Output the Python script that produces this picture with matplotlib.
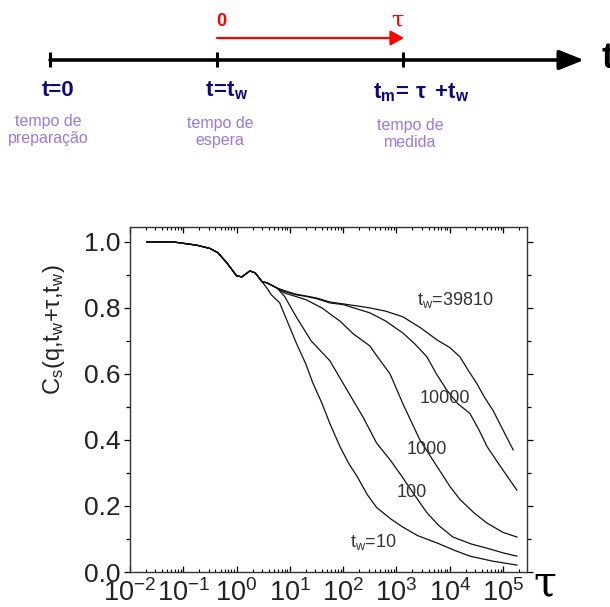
import matplotlib
matplotlib.use("Agg")
import matplotlib.pyplot as plt
import numpy as np

plt.rcParams['font.family'] = ['Liberation Sans', 'DejaVu Sans']
plt.rcParams['mathtext.fontset'] = 'custom'
plt.rcParams['mathtext.rm'] = 'Liberation Sans'
plt.rcParams['mathtext.it'] = 'Liberation Sans'
plt.rcParams['mathtext.bf'] = 'Liberation Sans:bold'
plt.rcParams['mathtext.default'] = 'regular'

# --- dados (expoentes de tau em log10) ---
# trecho comum a todas as curvas
log_tau_head = [-1.68, -1.2, -0.75, -0.5, -0.35, -0.18, 0.0, 0.1, 0.25, 0.35, 0.48]
c_head = [1.0, 1.0, 0.99, 0.98, 0.967, 0.936, 0.897, 0.894, 0.912, 0.906, 0.879]

log_tau_tw10 = [0.57, 0.65, 0.81, 0.95, 1.13, 1.3, 1.43, 1.6, 1.75, 1.94, 2.1, 2.26,
                2.45, 2.63, 2.9, 3.12, 3.4, 3.76, 4.1, 4.38, 4.8, 5.26]
c_tw10 = [0.86, 0.84, 0.815, 0.76, 0.69, 0.63, 0.573, 0.512, 0.45, 0.38, 0.33, 0.29,
          0.235, 0.195, 0.16, 0.136, 0.11, 0.088, 0.065, 0.048, 0.033, 0.021]

log_tau_tw100 = [0.57, 0.76, 0.9, 1.13, 1.4, 1.75, 2.07, 2.37, 2.63, 2.88, 3.1, 3.31,
                 3.57, 3.8, 4.06, 4.4, 4.7, 5.0, 5.26]
c_tw100 = [0.876, 0.86, 0.835, 0.77, 0.70, 0.64, 0.552, 0.47, 0.39, 0.34, 0.29, 0.24,
           0.18, 0.14, 0.106, 0.085, 0.072, 0.058, 0.048]

log_tau_tw1000 = [0.57, 0.76, 0.9, 1.1, 1.3, 1.6, 1.94, 2.2, 2.5, 2.63, 2.88, 3.12,
                  3.44, 3.76, 4.0, 4.19, 4.45, 4.7, 5.0, 5.26]
c_tw1000 = [0.876, 0.86, 0.845, 0.835, 0.825, 0.80, 0.76, 0.72, 0.685, 0.655, 0.60, 0.51,
            0.40, 0.32, 0.26, 0.22, 0.18, 0.148, 0.12, 0.106]

log_tau_tw10000 = [0.57, 0.76, 0.9, 1.1, 1.3, 1.5, 1.75, 2.0, 2.3, 2.5, 2.8, 3.12, 3.35,
                   3.57, 3.75, 3.94, 4.15, 4.38, 4.55, 4.7, 4.95, 5.26]
c_tw10000 = [0.876, 0.86, 0.85, 0.84, 0.835, 0.828, 0.815, 0.81, 0.795, 0.785, 0.76, 0.724,
             0.69, 0.652, 0.60, 0.552, 0.51, 0.48, 0.43, 0.38, 0.32, 0.248]

log_tau_tw39810 = [0.57, 0.76, 0.9, 1.1, 1.3, 1.5, 1.75, 2.0, 2.3, 2.5, 2.8, 3.12, 3.45,
                   3.76, 4.0, 4.19, 4.35, 4.5, 4.65, 4.81, 5.0, 5.19]
c_tw39810 = [0.876, 0.86, 0.852, 0.842, 0.836, 0.83, 0.818, 0.812, 0.805, 0.80, 0.79, 0.773,
             0.74, 0.703, 0.68, 0.652, 0.61, 0.573, 0.53, 0.49, 0.43, 0.37]

curvas = [(log_tau_tw10, c_tw10), (log_tau_tw100, c_tw100), (log_tau_tw1000, c_tw1000),
          (log_tau_tw10000, c_tw10000), (log_tau_tw39810, c_tw39810)]

# rotulos das curvas: (texto, log10 tau, C)
rotulos = [(r"t$_\mathrm{w}$=39810", 3.38, 0.825),
           ("10000", 3.44, 0.527),
           ("1000", 3.2, 0.37),
           ("100", 3.0, 0.24),
           (r"t$_\mathrm{w}$=10", 2.13, 0.09)]

fig = plt.figure(figsize=(6.1, 6.07), dpi=100)

# ---------------- diagrama temporal ----------------
diag = fig.add_axes([0, 1 - 160 / 607, 1, 160 / 607])
diag.set_xlim(0, 610)
diag.set_ylim(160, 0)
diag.axis('off')

navy = '#0a0a78'
roxo = '#9a78dc'

diag.annotate('', xy=(584, 60), xytext=(50, 60),
              arrowprops=dict(arrowstyle='-|>,head_length=0.75,head_width=0.3',
                              mutation_scale=20, lw=2.6, color='black',
                              shrinkA=0, shrinkB=0))
for xt in [50, 217, 403]:
    diag.plot([xt, xt], [52, 67], color='black', lw=2.2, solid_capstyle='butt')

diag.annotate('', xy=(404, 38), xytext=(217, 38),
              arrowprops=dict(arrowstyle='-|>,head_length=0.45,head_width=0.25',
                              mutation_scale=18, lw=1.6, color='red',
                              shrinkA=0, shrinkB=0))
diag.text(221, 22, '0', color='red', fontsize=13, fontweight='bold', ha='center', va='center')
diag.text(398, 21, r'$\tau$', color='red', fontsize=16, ha='center', va='center',
          family='DejaVu Serif')
diag.text(602, 58, 't', color='black', fontsize=26, fontweight='bold', ha='left', va='center')

diag.text(58, 91, 't=0', color=navy, fontsize=16, fontweight='bold', ha='center', va='center')
diag.text(205, 91, r'$\mathbf{t\!=\!t_w}$', color=navy, fontsize=16, ha='left', va='center')
diag.text(373, 93, r'$\mathbf{t_m\!=\,\tau\;+\!t_w}$', color=navy, fontsize=16,
          ha='left', va='center')

diag.text(48, 130, 'tempo de\npreparação', color=roxo, fontsize=11.5, ha='center',
          va='center', linespacing=1.2)
diag.text(220, 132, 'tempo de\nespera', color=roxo, fontsize=11.5, ha='center',
          va='center', linespacing=1.2)
diag.text(410, 134, 'tempo de\nmedida', color=roxo, fontsize=11.5, ha='center',
          va='center', linespacing=1.2)

# ---------------- grafico ----------------
ax = fig.add_axes([130 / 610, 1 - 572 / 607, 397 / 610, 345 / 607])

for lt, c in curvas:
    x = 10.0 ** np.array(log_tau_head + lt)
    y = np.array(c_head + c)
    ax.plot(x, y, color='#111111', lw=0.9)

for texto, lx, cy in rotulos:
    ax.text(10.0 ** lx, cy, texto, fontsize=13, color='#333333', ha='left', va='center')

ax.set_xscale('log')
ax.set_xlim(1e-2, 10 ** 5.45)
ax.set_ylim(0, 1.045)
ax.set_yticks(np.arange(0, 1.01, 0.2))
ax.set_yticks(np.arange(0.1, 1.01, 0.2), minor=True)
ax.set_yticklabels(['0.0', '0.2', '0.4', '0.6', '0.8', '1.0'])
ax.xaxis.set_major_locator(matplotlib.ticker.LogLocator(base=10, numticks=20))
ax.xaxis.set_minor_locator(matplotlib.ticker.LogLocator(base=10, subs=np.arange(2, 10),
                                                        numticks=20))
ax.xaxis.set_minor_formatter(matplotlib.ticker.NullFormatter())

ax.tick_params(axis='y', which='major', direction='out', length=4.5, width=0.9,
               labelsize=19, right=True, pad=2, labelcolor='#222222')
ax.tick_params(axis='y', which='minor', direction='out', length=3, width=0.9, right=True)
ax.tick_params(axis='x', which='major', direction='in', length=4.5, width=0.9,
               labelsize=19.5, top=True, pad=5.5, labelcolor='#222222')
ax.tick_params(axis='x', which='minor', direction='in', length=2.5, width=0.8, top=True)
for sp in ax.spines.values():
    sp.set_linewidth(1.0)
    sp.set_color('#333333')

fig.text(54 / 610, 1 - 330 / 607, r'C$_\mathrm{s}$(q,t$_\mathrm{w}$+$\tau$,t$_\mathrm{w}$)',
         rotation=90, fontsize=17, ha='center', va='center', color='#222222')
fig.text(545 / 610, 1 - 584 / 607, r'$\tau$', fontsize=30, ha='center', va='center',
         family='DejaVu Serif')

fig.savefig('out.png', dpi=100)
